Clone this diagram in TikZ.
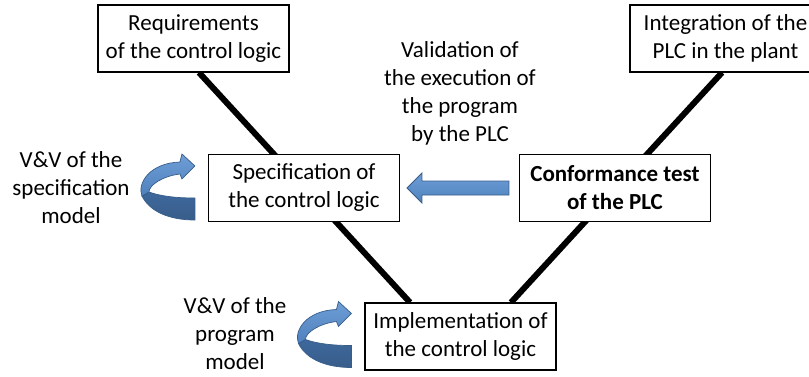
\documentclass[tikz,border=0pt]{standalone}
\usepackage{fontspec}
\setmainfont{Carlito}
\definecolor{vvblue}{RGB}{79,129,189}
\definecolor{vvlight}{RGB}{110,158,214}
\definecolor{vvdark}{RGB}{56,93,138}
\definecolor{vvback}{RGB}{62,104,156}
\usepackage{tikz}
\usetikzlibrary{arrows.meta,positioning,calc,backgrounds}

\begin{document}
\begin{tikzpicture}[x=1pt, y=-1pt,
  stagebox/.style={draw=black, line width=1.1pt, fill=white, minimum width=191pt,
    minimum height=67pt, inner sep=0pt, align=center},
  vline/.style={line width=6pt, black},
  vvtext/.style={align=center},
  blockarrow/.style={draw=vvdark, line width=0.8pt, top color=vvlight, bottom color=vvblue},
  vvloop/.pic={
    % back side of the loop
    \draw[draw=vvdark, line width=0.7pt, top color=vvback, bottom color=vvdark]
      (0,29) .. controls (-25,29) and (-45,21) .. (-53,5) -- (-46,1)
      .. controls (-35,5) and (-20,7) .. (0,7) -- cycle;
    % front side with the head
    \draw[draw=vvdark, line width=0.7pt, top color=vvlight, bottom color=vvblue]
      (-53,5) .. controls (-58,-8) and (-45,-28) .. (-15,-29)
      -- (-13,-37) -- (0,-25) -- (-13,-12) -- (-15,-17)
      .. controls (-32,-15) and (-46,-6) .. (-46,1) -- cycle;
  }]
\useasboundingbox (0,0) rectangle (809,376);
\fontsize{23}{28}\selectfont

% Stages of the V
\node[stagebox] (req) at (193.5,38.5) {Requirements\\of the control logic};
\node[stagebox] (integ) at (725.5,38.5) {Integration of the\\PLC in the plant};
\node[stagebox] (spec) at (304,188) {Specification of\\the control logic};
\node[stagebox, font=\bfseries] (conf) at (615,188) {Conformance test\\of the PLC};
\node[stagebox] (impl) at (460.5,336.5) {Implementation of\\the control logic};

% The two legs, behind the boxes
\begin{scope}[on background layer]
\draw[vline] ([xshift=5.5pt]req.south) -- ([xshift=-50.5pt]impl.north);
\draw[vline] ([xshift=50.5pt]impl.north) -- ([xshift=-3.5pt]integ.south);
\end{scope}

% Validation arrow
\draw[blockarrow] ([xshift=-10pt]conf.west) -- ++(0,-7) -- ++(-87,0) -- ++(0,-8)
  -- ++(-15,15) -- ++(15,15) -- ++(0,-8) -- ++(87,0) -- cycle;
\node[vvtext] (valid) at (460,93) {Validation of\\the execution of\\the program\\by the PLC};

% V&V loops
\pic at ([shift={(-13,3)}]spec.west) {vvloop};
\pic at ([shift={(-13,2)}]impl.west) {vvloop};
\node[vvtext] (vvspec) at (71,188) {V\&V of the\\specification\\model};
\node[vvtext] (vvprog) at (235,334) {V\&V of the\\program\\model};

\end{tikzpicture}
\end{document}
